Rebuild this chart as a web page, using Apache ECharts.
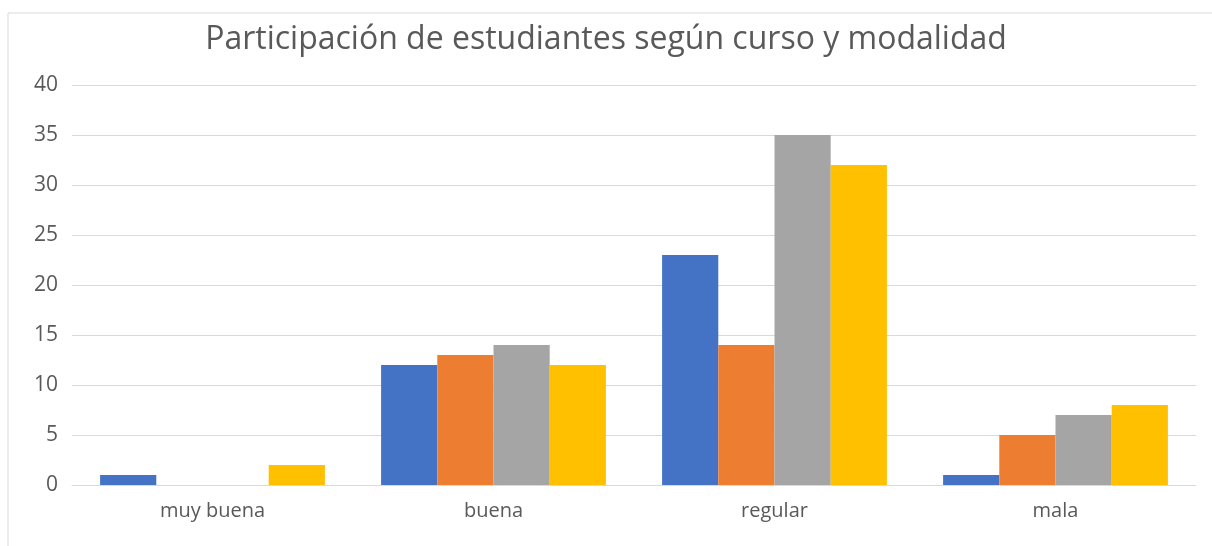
<!DOCTYPE html>
<html><head><meta charset="utf-8">
<script src="https://cdn.jsdelivr.net/npm/echarts@6/dist/echarts.min.js"></script>
<style>html,body{margin:0;padding:0;background:#fff}#c{width:1212px;height:546px}</style>
</head><body><div id="c"></div>
<script>
const title = 'Participación de estudiantes según curso y modalidad';
const categories = ['muy buena', 'buena', 'regular', 'mala'];
const serie1 = [1, 12, 23, 1];
const serie2 = [0, 13, 14, 5];
const serie3 = [0, 14, 35, 7];
const serie4 = [2, 12, 32, 8];
const seriesNames = ['Serie 1', 'Serie 2', 'Serie 3', 'Serie 4'];
const colors = ['#4472C4', '#ED7D31', '#A5A5A5', '#FFC000'];
const allData = [serie1, serie2, serie3, serie4];

const chart = echarts.init(document.getElementById('c'));
chart.setOption({
  animation: false,
  backgroundColor: '#fff',
  graphic: [{type: 'rect', shape: {x: 8, y: 13, width: 1250, height: 600},
    style: {fill: 'none', stroke: '#d9d9d9', lineWidth: 1}, silent: true}],
  title: {text: title, left: 'center', top: 19,
    textStyle: {fontFamily: 'Open Sans', fontSize: 32, fontWeight: 'normal', color: '#595959'}},
  grid: {left: 72, right: 16, top: 85, bottom: 61, containLabel: false},
  xAxis: {type: 'category', data: categories,
    axisLine: {lineStyle: {color: '#d9d9d9'}}, axisTick: {show: false},
    axisLabel: {fontFamily: 'Open Sans', fontSize: 20, color: '#595959', margin: 16}},
  yAxis: {type: 'value', min: 0, max: 40, interval: 5,
    axisLine: {show: false}, axisTick: {show: false},
    splitLine: {lineStyle: {color: '#d9d9d9'}},
    axisLabel: {fontFamily: 'Open Sans', fontSize: 21, color: '#595959', margin: 14}},
  series: allData.map((d, i) => ({
    name: seriesNames[i], type: 'bar', data: d, barGap: '0%', barCategoryGap: '20%',
    itemStyle: {color: colors[i]}
  }))
});
</script></body></html>
